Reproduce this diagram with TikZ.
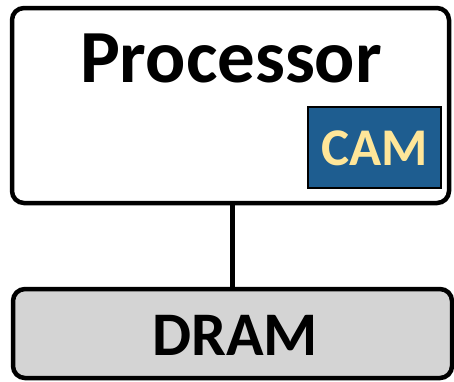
\documentclass[tikz,border=0pt]{standalone}
\usepackage{fontspec}
\setmainfont{Carlito}
\definecolor{camblue}{RGB}{30,93,144}
\definecolor{camtext}{RGB}{255,230,153}
\definecolor{dramgray}{RGB}{212,212,212}

\begin{document}
\begin{tikzpicture}[x=1pt,y=1pt,yscale=-1,xscale=1,
  unit/.style={draw=black,line width=4.5pt,rounded corners=12pt,inner sep=0pt},
  bigtext/.style={font=\bfseries\fontsize{75}{80}\selectfont,anchor=base,inner sep=0pt}]
\useasboundingbox (0,0) rectangle (454,381);

%Processor
\node [unit,fill=white,minimum width=437pt,minimum height=195pt] (proc) at (230.5,105.5) {};
\node [bigtext] (proctext) at (231,82) {Processor};

%CAM
\node [draw=black,line width=2pt,fill=camblue,inner sep=0pt,minimum width=133pt,minimum height=81pt] (cam) at (374.5,147.5) {};
\node [anchor=base,inner sep=0pt,text=camtext,font=\bfseries\fontsize{53}{56}\selectfont] (camtext) at (374.5,165) {CAM};

%DRAM
\node [unit,fill=dramgray,minimum width=439pt,minimum height=89pt] (dram) at (232.5,333.5) {};
\node [bigtext,font=\bfseries\fontsize{62}{66}\selectfont] (dramtext) at (235,355) {DRAM};

%Bus
\draw [line width=5pt] (dram.north) -- (dram.north |- proc.south);

\end{tikzpicture}
\end{document}
